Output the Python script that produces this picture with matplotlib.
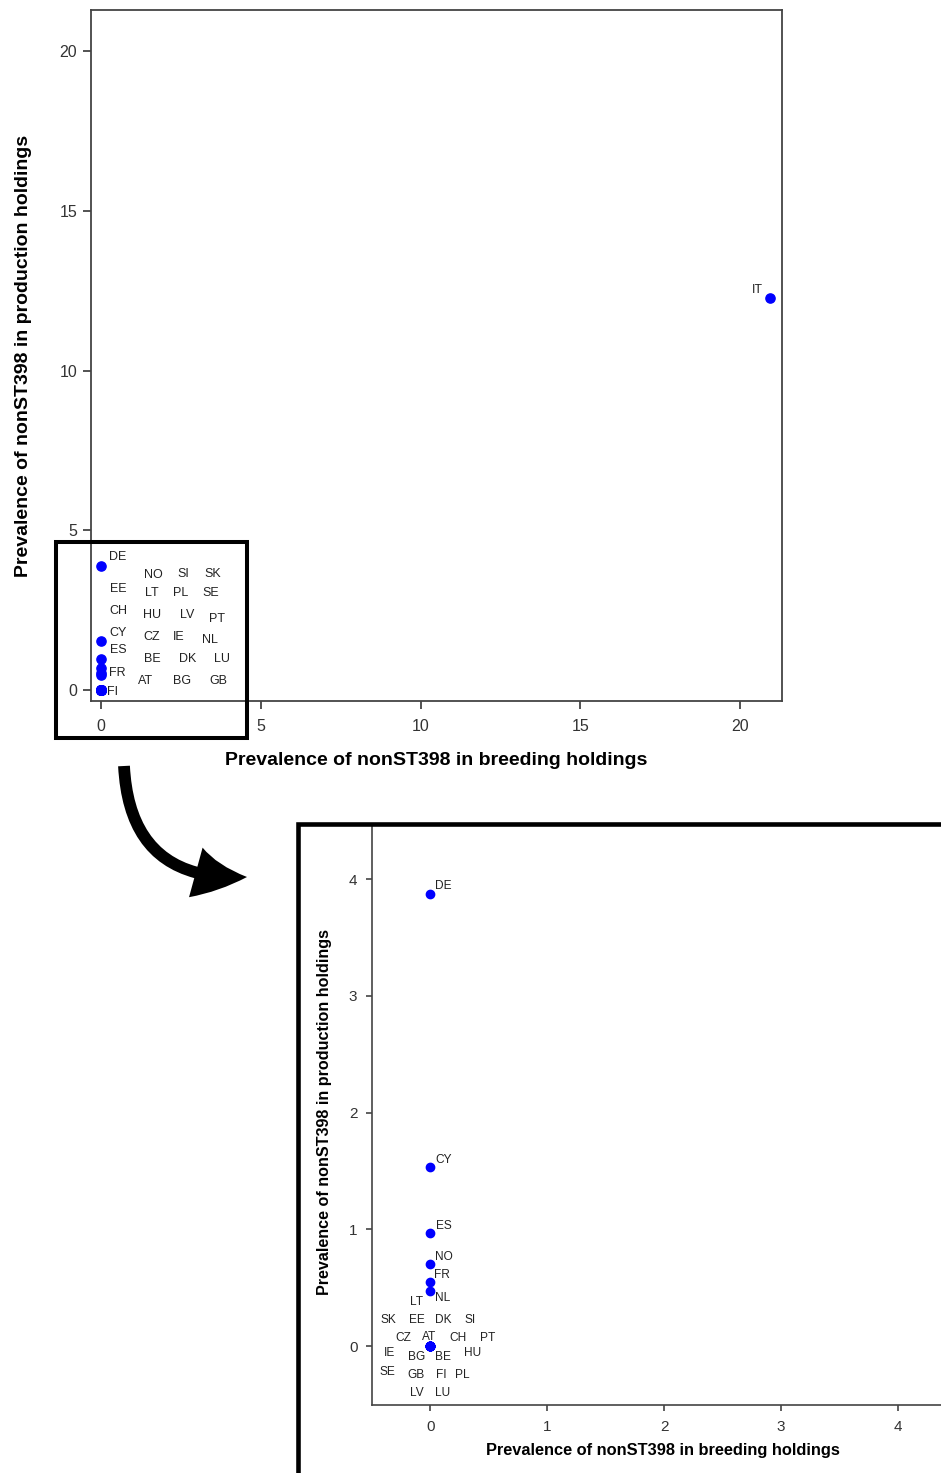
import matplotlib
matplotlib.use("Agg")
import matplotlib.pyplot as plt
from matplotlib.patches import Rectangle, FancyArrowPatch

W, H = 941, 1473

countries = ['IT', 'DE', 'CY', 'ES', 'NO', 'FR', 'NL', 'AT', 'BE', 'BG', 'CH', 'CZ',
             'DK', 'EE', 'FI', 'GB', 'HU', 'IE', 'LT', 'LU', 'LV', 'PL', 'PT', 'SE',
             'SI', 'SK']
breeding = [20.94, 0, 0, 0, 0, 0, 0, 0, 0, 0, 0, 0, 0, 0, 0, 0, 0, 0, 0, 0, 0, 0, 0, 0, 0, 0]
production = [12.27, 3.87, 1.53, 0.97, 0.70, 0.55, 0.47, 0, 0, 0, 0, 0, 0, 0, 0, 0, 0, 0,
              0, 0, 0, 0, 0, 0, 0, 0]

xlab = 'Prevalence of nonST398 in breeding holdings'
ylab = 'Prevalence of nonST398 in production holdings'

# label placement (pixel offsets from each point) for the full view
lab_full = {'IT': (-13, 8), 'DE': (17, 9), 'CY': (17, 8), 'ES': (17, 9), 'FR': (16, 0),
            'NO': (52, 93), 'NL': (109, 35), 'SI': (82, 116), 'SK': (112, 116),
            'EE': (17, 101), 'LT': (51, 97), 'PL': (80, 97), 'SE': (110, 97),
            'CH': (17, 79), 'HU': (51, 75), 'LV': (86, 75), 'PT': (116, 71),
            'CZ': (51, 53), 'IE': (78, 53), 'BE': (51, 31), 'DK': (87, 31),
            'LU': (121, 31), 'AT': (45, 9), 'BG': (81, 9), 'GB': (117, 9),
            'FI': (12, -2)}
# and for the zoomed view
lab_zoom = {'DE': (13, 8), 'CY': (13, 7), 'ES': (13, 7), 'NO': (13, 7), 'FR': (12, 7),
            'NL': (12, -7), 'LT': (-14, 44), 'SK': (-42, 26), 'EE': (-14, 26),
            'DK': (13, 26), 'SI': (40, 26), 'CZ': (-27, 8), 'AT': (-1, 9),
            'CH': (28, 8), 'PT': (57, 8), 'IE': (-41, -7), 'BG': (-14, -11),
            'BE': (13, -11), 'HU': (42, -7), 'SE': (-43, -26), 'GB': (-14, -29),
            'FI': (11, -29), 'PL': (32, -29), 'LV': (-14, -47), 'LU': (12, -47)}

plt.rcParams['font.family'] = ['Liberation Sans', 'DejaVu Sans']


def box(x0, y0, x1, y1):
    # pixel box (top-left origin) -> figure fraction rect
    return [x0 / W, 1 - y1 / H, (x1 - x0) / W, (y1 - y0) / H]


fig = plt.figure(figsize=(W / 100, H / 100), dpi=100)

# full view
ax = fig.add_axes(box(91, 10, 782, 701))
ax.scatter(breeding, production, s=44, color='#0000ff', zorder=3, clip_on=False)
for c, x, y in zip(countries, breeding, production):
    ax.annotate(c, (x, y), xytext=lab_full[c], textcoords='offset pixels',
                ha='center', va='center', fontsize=9, color='#222222')
ax.set_xlim(-0.31, 21.31)
ax.set_ylim(-0.34, 21.28)
ax.set_xticks([0, 5, 10, 15, 20])
ax.set_yticks([0, 5, 10, 15, 20])
for s in ax.spines.values():
    s.set_color('#444444')
    s.set_linewidth(1.3)
ax.tick_params(length=6, width=1.3, color='#444444', labelsize=11.5,
               labelcolor='#333333')
ax.tick_params(axis='x', pad=7)
ax.tick_params(axis='y', pad=4)
ax.set_xlabel(xlab, fontsize=14, fontweight='bold')
ax.set_ylabel(ylab, fontsize=14, fontweight='bold')
ax.xaxis.set_label_coords(0.5, -0.074)
ax.yaxis.set_label_coords(-0.085, 0.5)

# zoomed view of the cluster near the origin
az = fig.add_axes(box(372, 826, 956, 1405))
az.scatter(breeding, production, s=36, color='#0000ff', zorder=3)
for c, x, y in zip(countries, breeding, production):
    if c in lab_zoom:
        az.annotate(c, (x, y), xytext=lab_zoom[c], textcoords='offset pixels',
                    ha='center', va='center', fontsize=8.6, color='#222222')
az.set_xlim(-0.5, 4.5)
az.set_ylim(-0.505, 4.454)
az.set_xticks([0, 1, 2, 3, 4])
az.set_yticks([0, 1, 2, 3, 4])
az.spines['top'].set_visible(False)
az.spines['right'].set_visible(False)
for s in ['left', 'bottom']:
    az.spines[s].set_color('#444444')
    az.spines[s].set_linewidth(1.2)
az.tick_params(length=4.5, width=1.2, color='#444444', labelsize=11,
               labelcolor='#333333', pad=6)
az.set_xlabel(xlab, fontsize=11.8, fontweight='bold')
az.set_ylabel(ylab, fontsize=11.6, fontweight='bold')
az.xaxis.set_label_coords(0.498, -0.066)
az.yaxis.set_label_coords(-0.068, 0.506)

# highlight box, frame round the zoom and the connecting arrow
fig.add_artist(Rectangle((56 / W, 1 - 738 / H), (247 - 56) / W, (738 - 542) / H,
                         transform=fig.transFigure, fill=False, lw=2.9,
                         edgecolor='black'))
fig.add_artist(Rectangle((298 / W, 1 - 1500 / H), 700 / W, (1500 - 824) / H,
                         transform=fig.transFigure, fill=False, lw=3.3,
                         edgecolor='black'))
arrow = FancyArrowPatch((124 / W, 1 - 766 / H), (247 / W, 1 - 877 / H),
                        transform=fig.transFigure,
                        connectionstyle='arc3,rad=0.5',
                        arrowstyle='simple,head_length=37,head_width=37,tail_width=8.5',
                        mutation_scale=1, shrinkA=0, shrinkB=0,
                        color='black', lw=0)
fig.add_artist(arrow)

fig.savefig('out.png', dpi=100)
